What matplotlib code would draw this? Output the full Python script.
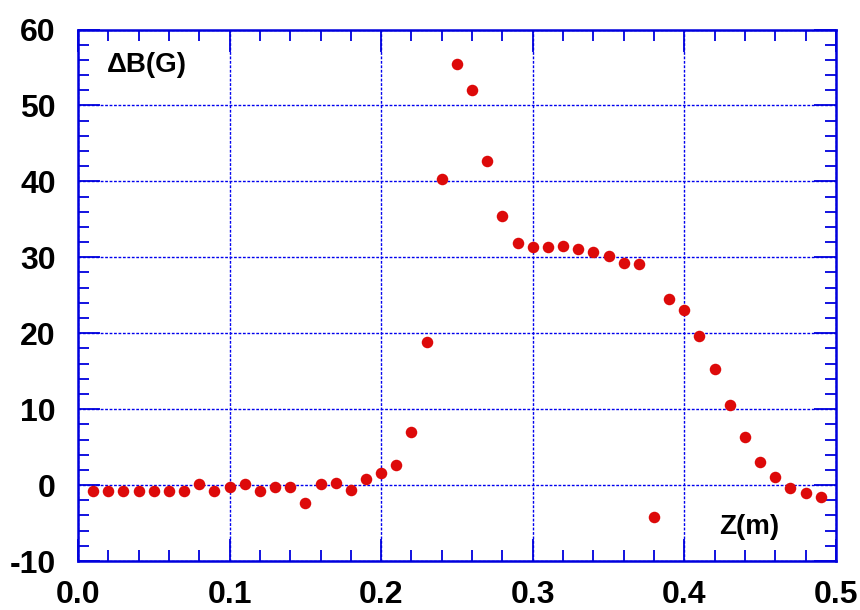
import numpy as np
import matplotlib
matplotlib.use('Agg')
import matplotlib.pyplot as plt
from matplotlib.ticker import MultipleLocator

# z positions (m) and field difference (G)
z = [0.01, 0.02, 0.03, 0.04, 0.05, 0.06, 0.07, 0.08, 0.09, 0.10,
     0.11, 0.12, 0.13, 0.14, 0.15, 0.16, 0.17, 0.18, 0.19, 0.20,
     0.21, 0.22, 0.23, 0.24, 0.25, 0.26, 0.27, 0.28, 0.29, 0.30,
     0.31, 0.32, 0.33, 0.34, 0.35, 0.36, 0.37, 0.38, 0.39, 0.40,
     0.41, 0.42, 0.43, 0.44, 0.45, 0.46, 0.47, 0.48, 0.49]
dB = [-0.8, -0.8, -0.8, -0.8, -0.8, -0.8, -0.8, 0.2, -0.8, -0.3,
      0.2, -0.8, -0.3, -0.2, -2.3, 0.1, 0.3, -0.7, 0.85, 1.6,
      2.65, 7.05, 18.9, 40.3, 55.5, 52.1, 42.7, 35.5, 31.9, 31.4,
      31.3, 31.5, 31.1, 30.7, 30.2, 29.3, 29.1, -4.15, 24.5, 23.0,
      19.6, 15.3, 10.6, 6.3, 3.0, 1.0, -0.4, -1.1, -1.6]

xticks = [0.0, 0.1, 0.2, 0.3, 0.4, 0.5]
xticklabels = ['0.0', '0.1', '0.2', '0.3', '0.4', '0.5']
yticks = [-10, 0, 10, 20, 30, 40, 50, 60]

plt.rcParams['font.family'] = ['Liberation Sans', 'DejaVu Sans']
plt.rcParams['font.weight'] = 'bold'
plt.rcParams['axes.unicode_minus'] = False

fig = plt.figure(figsize=(8.6, 6.1), dpi=100)
ax = fig.add_axes([0.0907, 0.0803, 0.8813, 0.8713])

axis_col = '#0000dd'
ax.plot(z, dB, 'o', color='#dd0a0a', markersize=8.3, markeredgewidth=0, zorder=3)

ax.set_xlim(0, 0.5)
ax.set_ylim(-10, 60)
ax.set_xticks(xticks)
ax.set_xticklabels(xticklabels)
ax.set_yticks(yticks)
ax.xaxis.set_minor_locator(MultipleLocator(0.02))
ax.yaxis.set_minor_locator(MultipleLocator(2))

ax.grid(True, which='major', color='#0000ee', linestyle=(0, (2, 1.2)), linewidth=1.0)
ax.set_axisbelow(True)

for s in ax.spines.values():
    s.set_color(axis_col)
    s.set_linewidth(1.8)

ax.tick_params(which='both', direction='in', top=True, right=True,
               color=axis_col, labelsize=23, width=1.3)
ax.tick_params(which='major', length=16)
ax.tick_params(axis='x', which='major', pad=14)
ax.tick_params(axis='y', which='major', pad=16)
ax.tick_params(which='minor', length=8)
for lab in ax.get_xticklabels() + ax.get_yticklabels():
    lab.set_fontweight('bold')

ax.text(0.038, 0.934, 'ΔB(G)', transform=ax.transAxes, fontsize=20,
        fontweight='bold', ha='left', va='center')
ax.text(0.846, 0.064, 'Z(m)', transform=ax.transAxes, fontsize=20,
        fontweight='bold', ha='left', va='center')

fig.savefig('out.png', dpi=100)
